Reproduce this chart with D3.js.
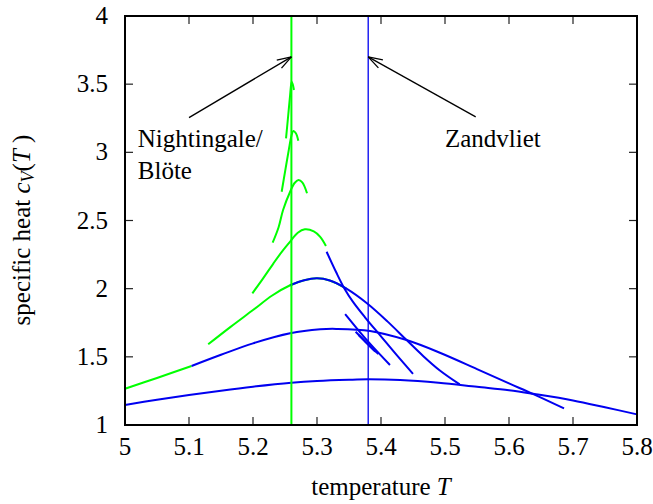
<!DOCTYPE html>
<html>
<head>
<meta charset="utf-8">
<script src="https://cdn.jsdelivr.net/npm/d3@7"></script>
<style>
  body { margin: 0; background: #fff; }
  text { font-family: "Liberation Serif", "Times New Roman", serif; }
</style>
</head>
<body>
<div id="chart"></div>
<script>
// Data: [temperature T, specific heat cV]
const curveA = [[5.0,1.147],[5.05,1.185],[5.1,1.22],[5.15,1.252],[5.2,1.281],[5.26,1.31],[5.3,1.323],
  [5.35,1.332],[5.38,1.335],[5.43,1.33],[5.49,1.31],[5.55,1.28],[5.6,1.255],[5.64,1.227],[5.7,1.18],
  [5.75,1.13],[5.8,1.078]];

const curveBGreen = [[5.0,1.266],[5.05,1.345],[5.104,1.433]];
const curveBBlue = [[5.104,1.433],[5.15,1.515],[5.2,1.599],[5.258,1.673],[5.305,1.702],[5.33,1.705],
  [5.383,1.69],[5.44,1.623],[5.492,1.53],[5.55,1.41],[5.6,1.305],[5.638,1.227],[5.686,1.122]];

const curveCGreen = [[5.13,1.592],[5.165,1.72],[5.2,1.843],[5.23,1.95],[5.258,2.025],[5.28,2.062],
  [5.3,2.076],[5.32,2.06],[5.346,2.0]];
const curveCBlue = [[5.258,2.025],[5.28,2.062],[5.3,2.076],[5.32,2.06],[5.346,2.0],[5.378,1.893],
  [5.41,1.76],[5.44,1.623],[5.465,1.51],[5.492,1.40],[5.523,1.298]];

const curveDGreen = [[5.199,1.966],[5.215,2.07],[5.232,2.186],[5.245,2.27],[5.258,2.345],[5.27,2.41],
  [5.281,2.435],[5.295,2.42],[5.305,2.38],[5.314,2.313]];
const curveDBlue = [[5.315,2.271],[5.33,2.12],[5.343,2.0],[5.356,1.905],[5.375,1.79],[5.40,1.65],
  [5.425,1.51],[5.45,1.375]];

const curveEGreen = [[5.2307,2.337],[5.24,2.45],[5.247,2.577],[5.258,2.711],[5.265,2.775],[5.271,2.797],
  [5.277,2.78],[5.2844,2.70]];
const curveEBlue = [[5.344,1.814],[5.38,1.611],[5.414,1.44]];

const curveFGreen = [[5.2448,2.711],[5.2505,2.87],[5.256,3.02],[5.26,3.12],[5.263,3.156],[5.267,3.14],
  [5.2708,3.085]];
const curveFBlue = [[5.3604,1.684],[5.378,1.6],[5.396,1.52]];

const curveGGreen = [[5.2516,3.103],[5.255,3.27],[5.258,3.42],[5.2604,3.518],[5.262,3.5],[5.264,3.457]];
const curveGBlue = [[5.365,1.66],[5.378,1.6],[5.391,1.538]];

const greenCurves = [curveBGreen, curveCGreen, curveDGreen, curveEGreen, curveFGreen, curveGGreen];
const blueCurves = [curveA, curveBBlue, curveCBlue, curveDBlue, curveEBlue, curveFBlue, curveGBlue];

// critical temperatures (vertical lines)
const tcNightingale = 5.26;
const tcZandvliet = 5.38;

// annotations: label position and arrow tail -> head
const annotations = [
  { lines: ["Nightingale/", "Blöte"], at: [5.02, 3.1], from: [5.1, 3.255], to: [5.26, 3.7] },
  { lines: ["Zandvliet"], at: [5.5, 3.1], from: [5.548, 3.26], to: [5.38, 3.7] }
];

const xTicks = [5, 5.1, 5.2, 5.3, 5.4, 5.5, 5.6, 5.7, 5.8];
const yTicks = [1, 1.5, 2, 2.5, 3, 3.5, 4];

let width = 653, height = 504;
let margin = { top: 16, bottom: 79, left: 125, right: 16 };

let svg = d3.select("#chart")
  .append("svg")
  .attr("width", width)
  .attr("height", height)
  .style("background", "#fff");

let x = d3.scaleLinear()
  .domain([5, 5.8])
  .range([margin.left, width - margin.right]);

let y = d3.scaleLinear()
  .domain([1, 4])
  .range([height - margin.bottom, margin.top]);

const fontSize = 25;
const tickLen = 8;

// Ticks on all four sides, pointing inwards
let ticks = svg.append("g").attr("stroke", "#222").attr("stroke-width", 1.2);
xTicks.forEach(t => {
  ticks.append("line").attr("x1", x(t)).attr("x2", x(t))
    .attr("y1", y(1)).attr("y2", y(1) - tickLen);
  ticks.append("line").attr("x1", x(t)).attr("x2", x(t))
    .attr("y1", y(4)).attr("y2", y(4) + tickLen);
});
yTicks.forEach(t => {
  ticks.append("line").attr("x1", x(5)).attr("x2", x(5) + tickLen)
    .attr("y1", y(t)).attr("y2", y(t));
  ticks.append("line").attr("x1", x(5.8)).attr("x2", x(5.8) - tickLen)
    .attr("y1", y(t)).attr("y2", y(t));
});

// Tick labels
svg.append("g").selectAll("text")
  .data(xTicks)
  .enter().append("text")
  .attr("x", d => x(d))
  .attr("y", y(1) + 30)
  .attr("text-anchor", "middle")
  .attr("font-size", fontSize)
  .text(d => d3.format("~g")(d));

svg.append("g").selectAll("text")
  .data(yTicks)
  .enter().append("text")
  .attr("x", x(5) - 17)
  .attr("y", d => y(d) + 8)
  .attr("text-anchor", "end")
  .attr("font-size", fontSize)
  .text(d => d3.format("~g")(d));

// Axis labels
let xLabel = svg.append("text")
  .attr("x", (x(5) + x(5.8)) / 2)
  .attr("y", 495)
  .attr("text-anchor", "middle")
  .attr("font-size", fontSize);
xLabel.append("tspan").text("temperature ");
xLabel.append("tspan").attr("font-style", "italic").text("T");

let yLabel = svg.append("text")
  .attr("transform", "translate(30,230) rotate(-90)")
  .attr("text-anchor", "middle")
  .attr("font-size", fontSize);
yLabel.append("tspan").text("specific heat ");
yLabel.append("tspan").attr("font-style", "italic").text("c");
yLabel.append("tspan").attr("font-style", "italic").attr("font-size", 18).attr("dy", 4).text("V");
yLabel.append("tspan").attr("dy", -4).text("(");
yLabel.append("tspan").attr("font-style", "italic").text("T");
yLabel.append("tspan").text(" )");

// Curves
let line = d3.line()
  .x(d => x(d[0]))
  .y(d => y(d[1]))
  .curve(d3.curveCatmullRom.alpha(0.5));

svg.append("g").selectAll("path")
  .data(greenCurves)
  .enter().append("path")
  .attr("d", line)
  .attr("fill", "none")
  .attr("stroke", "#00ff00")
  .attr("stroke-width", 2);

svg.append("g").selectAll("path")
  .data(blueCurves)
  .enter().append("path")
  .attr("d", line)
  .attr("fill", "none")
  .attr("stroke", "#0000f0")
  .attr("stroke-width", 2);

// Vertical lines at the critical temperatures
svg.append("line")
  .attr("x1", x(tcNightingale)).attr("x2", x(tcNightingale))
  .attr("y1", y(1)).attr("y2", y(4))
  .attr("stroke", "#00ff00").attr("stroke-width", 2);

svg.append("line")
  .attr("x1", x(tcZandvliet)).attr("x2", x(tcZandvliet))
  .attr("y1", y(1)).attr("y2", y(4))
  .attr("stroke", "#0000f0").attr("stroke-width", 1.3);

// Arrows and labels
annotations.forEach(a => {
  let x1 = x(a.from[0]), y1 = y(a.from[1]);
  let x2 = x(a.to[0]), y2 = y(a.to[1]);
  let ang = Math.atan2(y2 - y1, x2 - x1);
  let head = 15, spread = Math.PI / 10;
  let g = svg.append("g").attr("stroke", "#000").attr("stroke-width", 1.3).attr("fill", "none");
  g.append("line").attr("x1", x1).attr("y1", y1).attr("x2", x2).attr("y2", y2);
  [-spread, spread].forEach(s => {
    g.append("line")
      .attr("x1", x2).attr("y1", y2)
      .attr("x2", x2 - head * Math.cos(ang + s))
      .attr("y2", y2 - head * Math.sin(ang + s));
  });

  a.lines.forEach((t, i) => {
    svg.append("text")
      .attr("x", x(a.at[0]))
      .attr("y", y(a.at[1]) + 8 + i * 32)
      .attr("font-size", fontSize)
      .text(t);
  });
});

// Frame
svg.append("rect")
  .attr("x", x(5)).attr("y", y(4))
  .attr("width", x(5.8) - x(5))
  .attr("height", y(1) - y(4))
  .attr("fill", "none")
  .attr("stroke", "#000")
  .attr("stroke-width", 2);
</script>
</body>
</html>
